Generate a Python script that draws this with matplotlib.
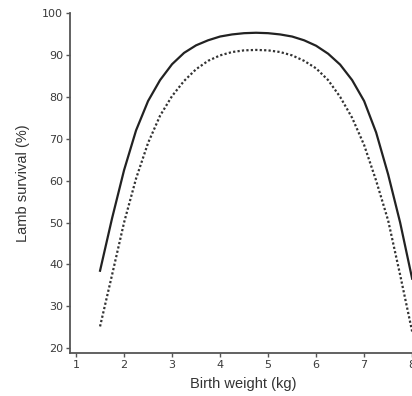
import matplotlib.pyplot as plt

# birth weight (kg)
weight = [1.5, 1.75, 2.0, 2.25, 2.5, 2.75, 3.0, 3.25, 3.5, 3.75, 4.0, 4.25, 4.5,
          4.75, 5.0, 5.25, 5.5, 5.75, 6.0, 6.25, 6.5, 6.75, 7.0, 7.25, 7.5, 7.75, 8.0]
# survival (%), upper curve (solid)
survival_upper = [38.5, 51, 62.5, 72, 79.0, 84, 87.8, 90.5, 92.3, 93.5, 94.4, 94.9, 95.2,
                  95.3, 95.2, 94.9, 94.4, 93.5, 92.2, 90.3, 87.7, 84, 79, 71.5, 61.5, 50, 36.6]
# survival (%), lower curve (dotted)
survival_lower = [25.2, 37.5, 50, 60.5, 69, 75.5, 80.2, 83.8, 86.6, 88.6, 89.9, 90.7, 91.1,
                  91.2, 91.1, 90.7, 89.9, 88.6, 86.8, 84, 80, 75, 68.5, 60, 50.5, 37.5, 24]

xticks = [1, 2, 3, 4, 5, 6, 7, 8]
yticks = [20, 30, 40, 50, 60, 70, 80, 90, 100]

plt.rcParams['font.family'] = ['Liberation Sans', 'DejaVu Sans']

fig = plt.figure(figsize=(4.12, 3.96), dpi=100)
ax = fig.add_axes([0.170, 0.109, 0.842, 0.858])

ax.plot(weight, survival_upper, color="#222222", lw=1.6, solid_joinstyle="round")
ax.plot(weight, survival_lower, color="#333333", lw=1.6, linestyle=(0, (1, 1)))

ax.set_xlim(0.875, 8.1)
ax.set_ylim(18.9, 100)
ax.set_xticks(xticks)
ax.set_yticks(yticks)

ax.spines["top"].set_visible(False)
ax.spines["right"].set_visible(False)
for side in ["left", "bottom"]:
    ax.spines[side].set_color("#555555")
    ax.spines[side].set_linewidth(1.3)

ax.tick_params(direction="out", length=3, width=1, color="#555555",
               labelsize=8, labelcolor="#3a3a3a", pad=2)
for lab in ax.get_xticklabels() + ax.get_yticklabels():
    lab.set_family(["DejaVu Sans"])

ax.set_xlabel("Birth weight (kg)", fontsize=10.5, color="#333333", labelpad=5)
ax.set_ylabel("Lamb survival (%)", fontsize=10.5, color="#333333", labelpad=9)

fig.savefig("out.png", dpi=100)
